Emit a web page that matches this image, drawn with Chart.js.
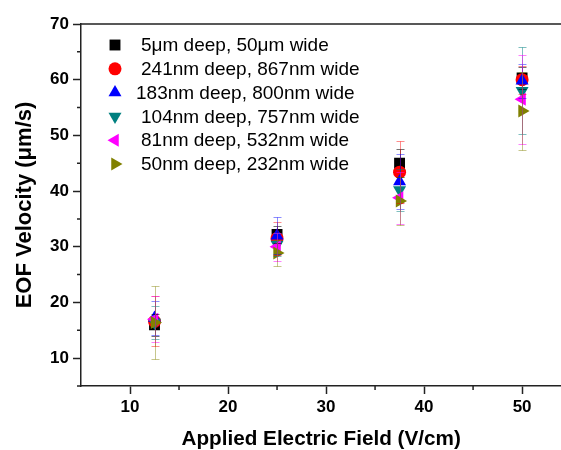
<!DOCTYPE html>
<html>
<head>
<meta charset="utf-8">
<script src="https://cdn.jsdelivr.net/npm/chart.js@4"></script>
<style>
  body { margin: 0; background: #fff; overflow: hidden; }
  #wrap { width: 561px; height: 450px; overflow: hidden; }
  canvas { display: block; }
</style>
</head>
<body>
<div id="wrap"><canvas id="chart" width="569" height="450"></canvas></div>
<script>
// Data
const fields = [12.5, 25, 37.5, 50];
const seriesNames = [
    '5\u03bcm deep, 50\u03bcm wide',
    '241nm deep, 867nm wide',
    '183nm deep, 800nm wide',
    '104nm deep, 757nm wide',
    '81nm deep, 532nm wide',
    '50nm deep, 232nm wide'
];
const vel5um = [16.0, 32.2, 45.0, 60.3];
const err5um = [2.0, 1.5, 2.5, 2.0];
const vel241 = [16.6, 31.5, 43.4, 60.0];
const err241 = [4.5, 2.9, 5.6, 2.5];
const vel183 = [17.2, 32.0, 41.7, 59.8];
const err183 = [3.0, 3.3, 5.0, 3.0];
const vel104 = [16.4, 30.4, 40.2, 58.0];
const err104 = [3.0, 2.0, 3.8, 7.8];
const vel81 = [17.0, 30.0, 38.8, 56.5];
const err81 = [4.1, 2.5, 4.7, 8.0];
const vel50 = [16.4, 28.9, 38.2, 54.4];
const err50 = [6.5, 2.4, 4.3, 7.0];

const xTicks = [10, 20, 30, 40, 50];
const xMinorTicks = [15, 25, 35, 45];
const yTicks = [10, 20, 30, 40, 50, 60, 70];
const yMinorTicks = [5, 15, 25, 35, 45, 55, 65];

const FONT = "'Liberation Sans', Arial, sans-serif";

const styles = [
    { color: '#000000', bar: 'rgba(0,0,0,0.55)', pointStyle: 'rect', radius: 7.7, rotation: 0 },
    { color: '#ff0000', bar: 'rgba(255,0,0,0.45)', pointStyle: 'circle', radius: 6.5, rotation: 0 },
    { color: '#0000ff', bar: 'rgba(0,0,255,0.45)', pointStyle: 'triangle', radius: 7.5, rotation: 0 },
    { color: '#008080', bar: 'rgba(0,128,128,0.5)', pointStyle: 'triangle', radius: 7.5, rotation: 180 },
    { color: '#ff00ff', bar: 'rgba(255,0,255,0.5)', pointStyle: 'triangle', radius: 7.5, rotation: 270 },
    { color: '#808000', bar: 'rgba(128,128,0,0.45)', pointStyle: 'triangle', radius: 7.5, rotation: 90 }
];
const values = [vel5um, vel241, vel183, vel104, vel81, vel50];
const errors = [err5um, err241, err183, err104, err81, err50];

const datasets = values.map((vals, i) => ({
    label: seriesNames[i],
    data: fields.map((f, j) => ({ x: f, y: vals[j] })),
    errors: errors[i],
    barColor: styles[i].bar,
    pointStyle: styles[i].pointStyle,
    rotation: styles[i].rotation,
    pointRadius: styles[i].radius,
    pointBackgroundColor: styles[i].color,
    pointBorderColor: styles[i].color,
    pointBorderWidth: 0,
    showLine: false,
    order: values.length - i
}));

// vertical error bars with small caps
const errorBars = {
    id: 'errorBars',
    afterDatasetsDraw(chart) {
        const c = chart.ctx;
        const ys = chart.scales.y;
        c.save();
        c.lineWidth = 1;
        chart.data.datasets.forEach((ds, i) => {
            const meta = chart.getDatasetMeta(i);
            c.strokeStyle = ds.barColor;
            ds.data.forEach((pt, j) => {
                const x = Math.round(meta.data[j].x) + 0.5;
                const top = Math.round(ys.getPixelForValue(pt.y + ds.errors[j])) + 0.5;
                const bot = Math.round(ys.getPixelForValue(pt.y - ds.errors[j])) + 0.5;
                c.beginPath();
                c.moveTo(x, top); c.lineTo(x, bot);
                c.moveTo(x - 4, top); c.lineTo(x + 4, top);
                c.moveTo(x - 4, bot); c.lineTo(x + 4, bot);
                c.stroke();
            });
        });
        c.restore();
    }
};

// minor ticks, top frame line and legend inside the plot
const frame = {
    id: 'frame',
    afterDraw(chart) {
        const c = chart.ctx;
        const { left, top, bottom } = chart.chartArea;
        const xs = chart.scales.x, ys = chart.scales.y;
        c.save();
        c.strokeStyle = '#222';
        c.lineWidth = 1.5;
        c.beginPath();
        c.moveTo(left, top); c.lineTo(chart.width, top);
        xMinorTicks.forEach(v => {
            const px = xs.getPixelForValue(v);
            c.moveTo(px, bottom); c.lineTo(px, bottom + 4);
        });
        yMinorTicks.forEach(v => {
            const py = ys.getPixelForValue(v);
            c.moveTo(left, py); c.lineTo(left - 4, py);
        });
        c.stroke();

        // legend
        c.font = '19px ' + FONT;
        c.textBaseline = 'middle';
        chart.data.datasets.forEach((ds, i) => {
            const y = 45 + i * 23.8;
            c.fillStyle = styles[i].color;
            Chart.helpers.drawPoint(c, {
                pointStyle: ds.pointStyle, rotation: ds.rotation,
                radius: ds.pointRadius, borderWidth: 0
            }, 115, y);
            c.fillStyle = '#000';
            c.fillText(ds.label, i === 2 ? 136 : 141, y + 1);
        });
        c.restore();
    }
};

new Chart(document.getElementById('chart'), {
    type: 'scatter',
    data: { datasets },
    options: {
        responsive: false,
        devicePixelRatio: 1,
        animation: false,
        layout: { padding: { top: 24, right: 0, left: 0, bottom: 0 } },
        plugins: { legend: { display: false }, tooltip: { enabled: false } },
        scales: {
            x: {
                type: 'linear', min: 5, max: 54,
                afterFit: s => { s.height = 64; },
                afterBuildTicks: s => { s.ticks = xTicks.map(v => ({ value: v })); },
                grid: { drawOnChartArea: false, tickLength: 8, color: '#222', tickWidth: 1.5 },
                border: { color: '#222', width: 1.5 },
                ticks: { color: '#000', padding: 3, maxRotation: 0, font: { family: FONT, size: 17, weight: 'bold' } },
                title: {
                    display: true, text: 'Applied Electric Field (V/cm)', color: '#000',
                    font: { family: FONT, size: 20.7, weight: 'bold', lineHeight: 1 },
                    padding: { top: 0, bottom: 0 }
                }
            },
            y: {
                type: 'linear', min: 5, max: 70,
                afterFit: s => { s.width = 81; },
                afterBuildTicks: s => { s.ticks = yTicks.map(v => ({ value: v })); },
                grid: { drawOnChartArea: false, tickLength: 8, color: '#222', tickWidth: 1.5 },
                border: { color: '#222', width: 1.5 },
                ticks: { color: '#000', padding: 4, font: { family: FONT, size: 17, weight: 'bold' } },
                title: {
                    display: true, text: 'EOF Velocity (\u03bcm/s)', color: '#000',
                    font: { family: FONT, size: 22, weight: 'bold', lineHeight: 1 },
                    padding: { top: 14, bottom: 0 }
                }
            }
        }
    },
    plugins: [errorBars, frame]
});
</script>
</body>
</html>
